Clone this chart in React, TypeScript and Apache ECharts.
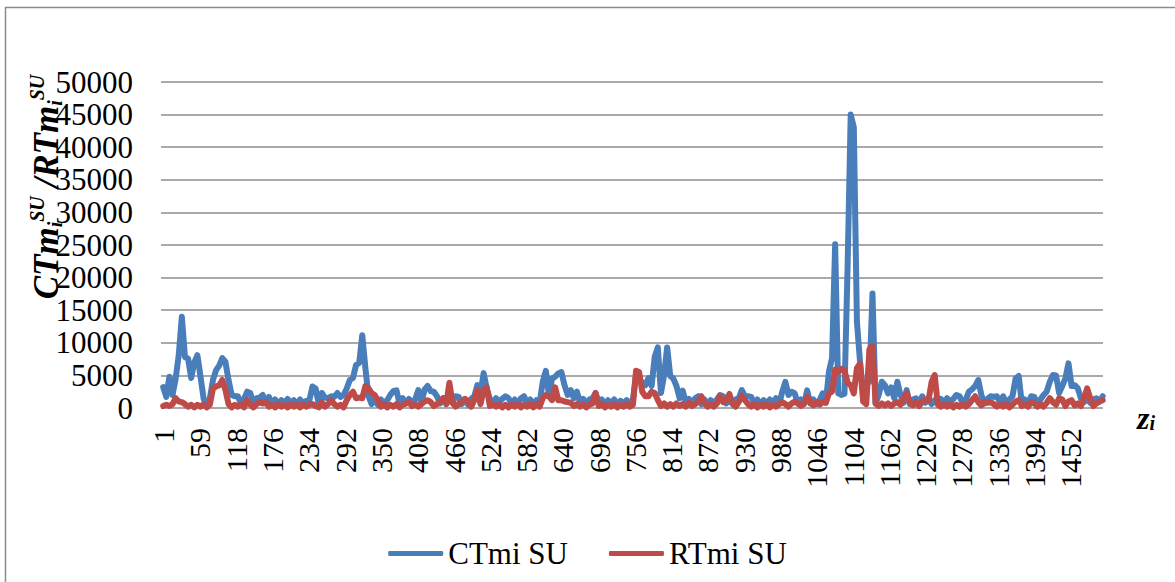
import React, { useEffect, useRef } from "react";
import * as echarts from "echarts";

const SERIES_NAMES = ["CTmi SU", "RTmi SU"];
const SERIES_COLORS = ["#4A7EBB", "#BE4B48"];
const TICK_LABELS = [1, 59, 118, 176, 234, 292, 350, 408, 466, 524, 582, 640, 698, 756, 814, 872, 930, 988, 1046, 1104, 1162, 1220, 1278, 1336, 1394, 1452];
const FIRST_ID = 1;
const LAST_ID = 1503;

const CT_SU = [
  3200, 1700, 4800, 2000, 4500, 8100, 14000, 7800, 7600, 4600,
  7000, 8100, 4800, 1400, 600, 1500, 4300, 5800, 6500, 7650,
  7100, 4300, 2000, 1800, 1800, 700, 1400, 2500, 2300, 700,
  1500, 1600, 2000, 700, 1700, 600, 1300, 500, 1200, 700,
  1400, 600, 1200, 500, 1300, 700, 1100, 1200, 3300, 3000,
  600, 2300, 1600, 1500, 1800, 1700, 2300, 1700, 2000, 3000,
  4300, 4600, 6600, 6900, 11170, 6100, 1800, 600, 1400, 500,
  1300, 700, 1200, 2000, 2600, 2700, 600, 1500, 700, 1400,
  800, 1300, 2750, 700, 2800, 3370, 2600, 2500, 1800, 700,
  1500, 600, 1400, 800, 1800, 1700, 600, 1300, 500, 1400,
  1800, 3500, 2300, 5350, 3000, 1400, 800, 1500, 900, 1400,
  1800, 1500, 700, 1300, 600, 1500, 1800, 700, 1300, 500,
  1200, 700, 4000, 5700, 2000, 4500, 4800, 5300, 5500, 3500,
  2000, 2750, 1500, 2500, 800, 1400, 700, 1300, 1500, 2300,
  700, 1300, 500, 1200, 600, 1300, 500, 1100, 700, 1200,
  600, 1300, 5000, 4500, 3800, 3500, 4600, 3370, 7850, 9290,
  2300, 5000, 9290, 4900, 4500, 3370, 1500, 2650, 800, 1400,
  700, 1500, 1800, 600, 1300, 500, 1200, 700, 1300, 2000,
  1800, 700, 1400, 600, 1300, 1500, 2750, 1800, 1800, 1700,
  700, 1300, 500, 1200, 700, 1300, 800, 1500, 600, 2500,
  4000, 2000, 2500, 2250, 700, 1300, 600, 2700, 700, 1300,
  600, 1200, 2250, 800, 5560, 7650, 25100, 2250, 2000, 2200,
  21630, 45000, 43060, 13200, 7090, 2250, 3800, 4000, 17550, 700,
  2000, 4030, 3500, 2250, 3160, 1500, 4030, 2000, 800, 2750,
  600, 1300, 1500, 700, 1800, 800, 1300, 600, 1200, 700,
  1400, 800, 1500, 900, 1400, 2000, 1800, 700, 1300, 2500,
  2860, 3370, 4290, 2000, 700, 1400, 1800, 1700, 1800, 800,
  1800, 700, 1300, 1800, 4500, 4900, 700, 1300, 600, 1800,
  1700, 600, 1300, 2000, 2500, 4030, 5050, 5000, 2300, 3370,
  4500, 6840, 3370, 3500, 3000, 1500, 900, 1500, 800, 1300,
  1500, 1000, 1800,
];

// RTmi SU, read at the same observations
const RT_SU = [
  300, 500, 300, 600, 1500, 1000, 900, 600, 200, 500,
  100, 500, 200, 600, 100, 500, 3000, 3300, 3500, 4300,
  2800, 600, 100, 500, 200, 600, 100, 1200, 500, 100,
  600, 900, 700, 900, 200, 500, 100, 600, 200, 500,
  100, 600, 200, 500, 100, 600, 200, 500, 600, 300,
  100, 900, 200, 600, 1200, 600, 200, 500, 100, 1200,
  2000, 2500, 1500, 1600, 1500, 3370, 3000, 2300, 2000, 1200,
  200, 600, 100, 500, 200, 600, 100, 500, 700, 900,
  300, 600, 200, 600, 1000, 1200, 900, 300, 600, 1000,
  1500, 600, 3870, 800, 200, 600, 1000, 1400, 1000, 200,
  1200, 2750, 600, 2800, 3160, 300, 600, 200, 600, 100,
  500, 100, 600, 200, 600, 100, 500, 200, 600, 100,
  600, 200, 1500, 2000, 1800, 1200, 3160, 1200, 1200, 1000,
  900, 800, 300, 600, 200, 600, 100, 500, 700, 2300,
  300, 600, 100, 500, 200, 600, 100, 500, 200, 600,
  200, 500, 5700, 5500, 2500, 1800, 1800, 2500, 2300, 1200,
  300, 700, 200, 600, 200, 700, 300, 600, 200, 800,
  300, 600, 1000, 1800, 700, 200, 600, 200, 700, 1800,
  900, 1200, 2150, 700, 200, 900, 1900, 1200, 600, 200,
  600, 100, 500, 200, 600, 100, 500, 200, 600, 900,
  600, 200, 700, 970, 700, 300, 700, 1730, 900, 400,
  900, 500, 900, 800, 2250, 2500, 5920, 5500, 6000, 5800,
  3870, 3500, 2250, 6120, 6840, 1000, 600, 9000, 9490, 700,
  300, 700, 400, 700, 300, 700, 900, 500, 1500, 2250,
  900, 400, 900, 300, 1000, 1300, 1100, 4000, 5050, 500,
  200, 600, 200, 600, 100, 500, 200, 600, 200, 600,
  1200, 1800, 900, 400, 900, 800, 900, 600, 200, 600,
  200, 600, 100, 500, 1000, 1200, 300, 600, 200, 900,
  700, 200, 600, 200, 800, 1500, 900, 500, 1500, 1300,
  300, 1000, 1200, 400, 700, 300, 1500, 3010, 1500, 300,
  700, 1000, 1200,
];

const FONT = "Liberation Serif";

export default function App() {
  const ref = useRef<HTMLDivElement>(null);

  useEffect(() => {
    if (!ref.current) return;
    const chart = echarts.init(ref.current, null, { renderer: "svg" });
    const n = CT_SU.length;
    const sampleIds = CT_SU.map((_, i) => FIRST_ID + (i * (LAST_ID - FIRST_ID)) / (n - 1));
    const toPairs = (vals: number[]) => vals.map((v, i) => [sampleIds[i], v]);

    const mkSeries = (name: string, vals: number[], color: string, z: number) => ({
      name,
      type: "line",
      data: toPairs(vals),
      symbol: "none",
      showSymbol: false,
      z,
      lineStyle: { color, width: 6, cap: "round", join: "round" },
      itemStyle: { color },
    });

    chart.setOption({
      animation: false,
      textStyle: { fontFamily: FONT },
      grid: { left: 161, right: 72, top: 82, bottom: 174 },
      xAxis: {
        type: "value",
        min: -2.5,
        max: 1503.5,
        axisLine: { show: false },
        axisTick: { show: false },
        splitLine: { show: false },
        axisLabel: {
          customValues: TICK_LABELS,
          formatter: (v: number) => String(Math.round(v)),
          rotate: 90,
          fontSize: 30,
          fontFamily: FONT,
          color: "#000",
          margin: 20,
        },
      },
      yAxis: {
        type: "value",
        min: 0,
        max: 50000,
        interval: 5000,
        axisLine: { show: false },
        axisTick: { show: false },
        splitLine: { lineStyle: { color: "#8c8c8c", width: 1.5 } },
        axisLabel: {
          formatter: (v: number) => String(v),
          fontSize: 31,
          fontFamily: FONT,
          color: "#000",
          margin: 28,
        },
      },
      legend: {
        data: SERIES_NAMES.map((name) => ({ name, icon: "roundRect" })),
        left: "center",
        top: 533,
        itemWidth: 55,
        itemHeight: 5,
        itemGap: 41,
        textStyle: { fontSize: 31, fontFamily: FONT, color: "#000" },
      },
      series: [
        mkSeries(SERIES_NAMES[0], CT_SU, SERIES_COLORS[0], 2),
        mkSeries(SERIES_NAMES[1], RT_SU, SERIES_COLORS[1], 3),
      ],
      graphic: [
        {
          type: "rect",
          silent: true,
          z: -10,
          shape: { x: 5.5, y: 7.5, width: 1300, height: 700 },
          style: { fill: "none", stroke: "#8a8a8a", lineWidth: 1.5 },
        },
        {
          type: "text",
          x: 46,
          y: 187,
          rotation: Math.PI / 2,
          z: 20,
          style: {
            text: "{a|CTm}{b|i}{c|SU}{a| /RTm}{b|i}{c|SU}",
            align: "center",
            verticalAlign: "middle",
            rich: {
              a: { fontSize: 35, fontFamily: FONT, fontWeight: "bold", fontStyle: "italic", fill: "#000", lineHeight: 38, verticalAlign: "middle" },
              b: { fontSize: 20, fontFamily: FONT, fontWeight: "bold", fontStyle: "italic", fill: "#000", lineHeight: 20, verticalAlign: "bottom" },
              c: { fontSize: 20, fontFamily: FONT, fontWeight: "bold", fontStyle: "italic", fill: "#000", lineHeight: 20, verticalAlign: "top" },
            },
          },
        },
        {
          type: "text",
          x: 1137,
          y: 418,
          z: 20,
          style: {
            text: "{a|z}{b|i}",
            align: "left",
            verticalAlign: "middle",
            rich: {
              a: { fontSize: 32, fontFamily: FONT, fontWeight: "bold", fontStyle: "italic", fill: "#000", lineHeight: 30, verticalAlign: "middle" },
              b: { fontSize: 20, fontFamily: FONT, fontWeight: "bold", fontStyle: "italic", fill: "#000", lineHeight: 16, verticalAlign: "bottom" },
            },
          },
        },
      ],
    });

    return () => chart.dispose();
  }, []);

  return <div ref={ref} style={{ position: "absolute", left: 0, top: 0, width: 1175, height: 582 }} />;
}
